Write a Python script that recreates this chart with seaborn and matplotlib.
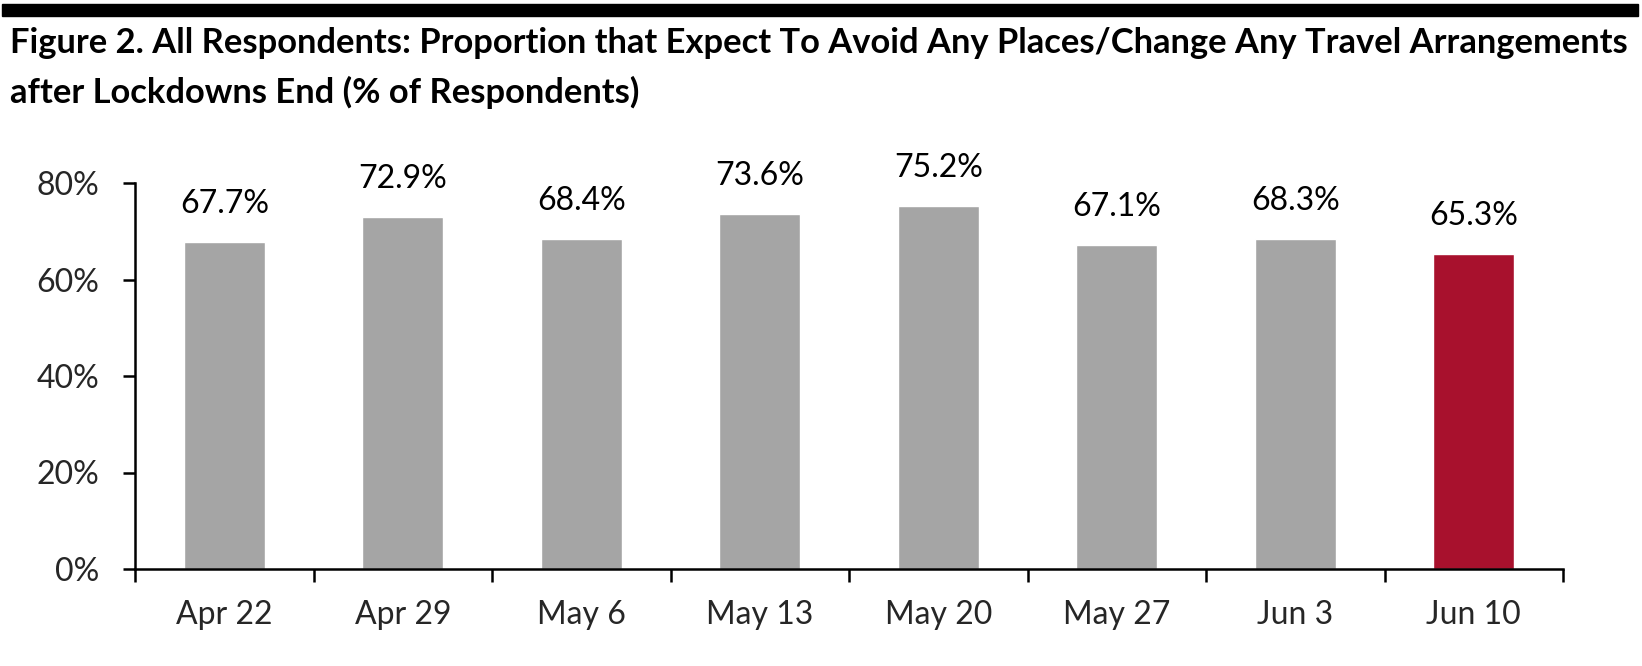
import matplotlib
matplotlib.use("Agg")
import matplotlib.pyplot as plt
import seaborn as sns
from matplotlib.ticker import FixedLocator, PercentFormatter
from matplotlib.patches import Rectangle

# ---- data ----
categories = ["Apr 22", "Apr 29", "May 6", "May 13", "May 20", "May 27", "Jun 3", "Jun 10"]
values = [67.7, 72.9, 68.4, 73.6, 75.2, 67.1, 68.3, 65.3]
bar_colors = ["#A5A5A5"] * 7 + ["#A8112D"]
y_ticks = [0, 20, 40, 60, 80]
title_line1 = "Figure 2. All Respondents: Proportion that Expect To Avoid Any Places/Change Any Travel Arrangements"
title_line2 = "after Lockdowns End (% of Respondents)"

sns.set_theme(style="white")
plt.rcParams["font.family"] = ["Lato", "DejaVu Sans"]

W, H, DPI = 1642, 666, 100
fig = plt.figure(figsize=(W / DPI, H / DPI), dpi=DPI)
ax = fig.add_axes([135 / W, (H - 569) / H, 1428 / W, 386 / H])

sns.barplot(x=categories, y=values, hue=categories, palette=bar_colors,
            legend=False, width=0.454, saturation=1, ax=ax)

ax.set_xlim(-0.5, len(categories) - 0.5)
ax.set_ylim(0, 80)
ax.set_xlabel("")
ax.set_ylabel("")

for sp in ["top", "right"]:
    ax.spines[sp].set_visible(False)
for sp in ["left", "bottom"]:
    ax.spines[sp].set_color("black")
    ax.spines[sp].set_linewidth(1.8)

ax.yaxis.set_major_locator(FixedLocator(y_ticks))
ax.yaxis.set_major_formatter(PercentFormatter(decimals=0))
ax.tick_params(axis="y", which="major", direction="out", length=8.6, width=1.8,
               color="black", labelsize=23, pad=17, left=True)
ax.set_xticks(range(len(categories)))
ax.set_xticklabels(categories)
ax.tick_params(axis="x", which="major", length=0, labelsize=23, pad=22)
ax.set_xticks([i - 0.5 for i in range(len(categories) + 1)], minor=True)
ax.tick_params(axis="x", which="minor", direction="out", length=9.4, width=1.8,
               color="black", bottom=True)
ax.grid(False)

for i, v in enumerate(values):
    ax.annotate(f"{v:.1f}%", xy=(i, v), xytext=(0, 21), textcoords="offset points",
                ha="center", va="baseline", fontsize=23, color="black")

# top black rule
fig.patches.append(Rectangle((2 / W, 1 - 16 / H), 1636 / W, 12 / H,
                             transform=fig.transFigure, color="black", zorder=5))

# title, fitted to width
t1 = fig.text(10 / W, 1 - 53 / H, title_line1, fontsize=20, fontweight="bold",
              ha="left", va="baseline", color="black")
t2 = fig.text(10 / W, 1 - 103 / H, title_line2, fontsize=20, fontweight="bold",
              ha="left", va="baseline", color="black")
fig.canvas.draw()
r = fig.canvas.get_renderer()
w = t1.get_window_extent(r).width
fs = 20 * 1620 / w
t1.set_fontsize(fs)
t2.set_fontsize(fs)

fig.savefig("out.png", dpi=DPI)
